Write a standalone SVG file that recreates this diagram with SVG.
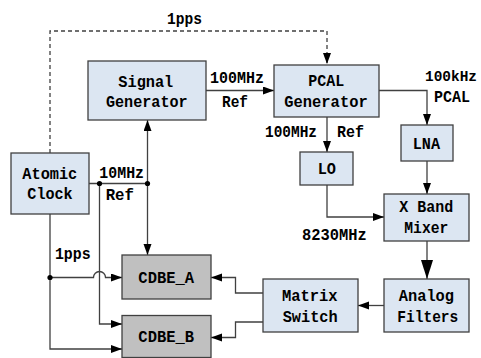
<svg xmlns="http://www.w3.org/2000/svg" width="481" height="358" viewBox="0 0 481 358">
<defs>
<style>
.box{fill:#dce6f2;stroke:#404040;stroke-width:1.3}
.gbox{fill:#c0c0c0;stroke:#404040;stroke-width:1.3}
.t{font-family:"Liberation Mono","DejaVu Sans Mono",monospace;font-weight:bold;font-size:17px;fill:#000;text-anchor:middle}
.c{fill:none;stroke:#404040;stroke-width:1.3}
.a{marker-end:url(#ah)}
.dot{fill:#000}
</style>
<marker id="ah" markerUnits="userSpaceOnUse" markerWidth="12" markerHeight="10" refX="11" refY="4" orient="auto">
<path d="M0,0 L11,4 L0,8 Z" fill="#000"/>
</marker>
<marker id="big" markerUnits="userSpaceOnUse" markerWidth="20" markerHeight="12" refX="19" refY="6" orient="auto">
<path d="M0,0 L19,6 L0,12 Z" fill="#000"/>
</marker>
</defs>
<g id="connectors">
<path class="c a" d="M50,153 V31 H327 V64" stroke-dasharray="4,3" stroke="#202020"/>
<path class="c a" d="M206,90.5 H274"/>
<path class="c a" d="M379,90.5 H427 V125"/>
<path class="c a" d="M327,117 V152"/>
<path class="c a" d="M327,185 V217 H384"/>
<path class="c a" d="M427,161 V194"/>
<path class="c" d="M427,241 V279" marker-end="url(#big)"/>
<path class="c a" d="M384,305.5 H358"/>
<path class="c a" d="M263,293 H235.5 V277.5 H211"/>
<path class="c a" d="M263,322 H235.5 V337.5 H211"/>
<path class="c" d="M89,183.5 H147.5"/>
<path class="c a" d="M147.5,183.5 V120"/>
<path class="c a" d="M147.5,183.5 V255"/>
<path class="c a" d="M99.5,183.5 V324 H122"/>
<path class="c a" d="M50,214 V349 H122"/>
<path class="c a" d="M50,277.5 H93.5 A6,6 0 0 1 105.5,277.5 H122"/>
<circle class="dot" cx="99.5" cy="183.5" r="2.6"/>
<circle class="dot" cx="147.5" cy="183.5" r="2.6"/>
<circle class="dot" cx="50" cy="277.5" r="2.6"/>
<text class="t" x="184.5" y="23.5" textLength="35" lengthAdjust="spacingAndGlyphs">1pps</text>
<text class="t" x="237" y="83.3" textLength="54" lengthAdjust="spacingAndGlyphs">100MHz</text>
<text class="t" x="235" y="106.7" textLength="26" lengthAdjust="spacingAndGlyphs">Ref</text>
<text class="t" x="291" y="136.7" textLength="52" lengthAdjust="spacingAndGlyphs">100MHz</text>
<text class="t" x="350.5" y="136.7" textLength="27" lengthAdjust="spacingAndGlyphs">Ref</text>
<text class="t" x="451" y="81" textLength="52" lengthAdjust="spacingAndGlyphs" style="font-size:15.5px">100kHz</text>
<text class="t" x="452" y="102.3" textLength="36" lengthAdjust="spacingAndGlyphs">PCAL</text>
<text class="t" x="334.3" y="240" textLength="64.7" lengthAdjust="spacingAndGlyphs">8230MHz</text>
<text class="t" x="121.7" y="178.3" textLength="44.7" lengthAdjust="spacingAndGlyphs">10MHz</text>
<text class="t" x="119.8" y="200" textLength="28.3" lengthAdjust="spacingAndGlyphs">Ref</text>
<text class="t" x="72.8" y="259.3" textLength="35.7" lengthAdjust="spacingAndGlyphs">1pps</text>
</g>
<g id="signal-generator">
<rect class="box" x="88" y="61" width="118" height="59"/>
<text class="t" x="145.8" y="86.7" textLength="55" lengthAdjust="spacingAndGlyphs">Signal</text>
<text class="t" x="146.8" y="107.3" textLength="81.7" lengthAdjust="spacingAndGlyphs">Generator</text>
</g>
<g id="pcal-generator">
<rect class="box" x="274" y="65" width="105" height="52"/>
<text class="t" x="326.3" y="86" textLength="36" lengthAdjust="spacingAndGlyphs">PCAL</text>
<text class="t" x="326" y="107.3" textLength="83.4" lengthAdjust="spacingAndGlyphs">Generator</text>
</g>
<g id="lna">
<rect class="box" x="401" y="125" width="52" height="36"/>
<text class="t" x="426.4" y="149" textLength="27.3" lengthAdjust="spacingAndGlyphs">LNA</text>
</g>
<g id="lo">
<rect class="box" x="300" y="152" width="53" height="33"/>
<text class="t" x="326.8" y="174" textLength="18.3" lengthAdjust="spacingAndGlyphs">LO</text>
</g>
<g id="x-band-mixer">
<rect class="box" x="384" y="194" width="85" height="47"/>
<text class="t" x="426.3" y="212.3" textLength="54" lengthAdjust="spacingAndGlyphs">X Band</text>
<text class="t" x="426.3" y="233.3" textLength="44" lengthAdjust="spacingAndGlyphs">Mixer</text>
</g>
<g id="atomic-clock">
<rect class="box" x="11" y="153" width="78" height="61"/>
<text class="t" x="49.8" y="179" textLength="55" lengthAdjust="spacingAndGlyphs">Atomic</text>
<text class="t" x="50" y="199.3" textLength="45.4" lengthAdjust="spacingAndGlyphs">Clock</text>
</g>
<g id="analog-filters">
<rect class="box" x="384" y="279" width="85" height="53"/>
<text class="t" x="426.4" y="300.7" textLength="55.3" lengthAdjust="spacingAndGlyphs">Analog</text>
<text class="t" x="427.8" y="321.7" textLength="61" lengthAdjust="spacingAndGlyphs">Filters</text>
</g>
<g id="matrix-switch">
<rect class="box" x="263" y="279" width="95" height="53"/>
<text class="t" x="309.8" y="300.5" textLength="55.7" lengthAdjust="spacingAndGlyphs">Matrix</text>
<text class="t" x="310.2" y="321.7" textLength="55" lengthAdjust="spacingAndGlyphs">Switch</text>
</g>
<g id="cdbe-a">
<rect class="gbox" x="122" y="255" width="89" height="44"/>
<text class="t" x="166.2" y="283.3" textLength="55.7" lengthAdjust="spacingAndGlyphs">CDBE_A</text>
</g>
<g id="cdbe-b">
<rect class="gbox" x="122" y="315.5" width="89" height="42"/>
<text class="t" x="166.2" y="342.3" textLength="55.7" lengthAdjust="spacingAndGlyphs">CDBE_B</text>
</g>
</svg>
